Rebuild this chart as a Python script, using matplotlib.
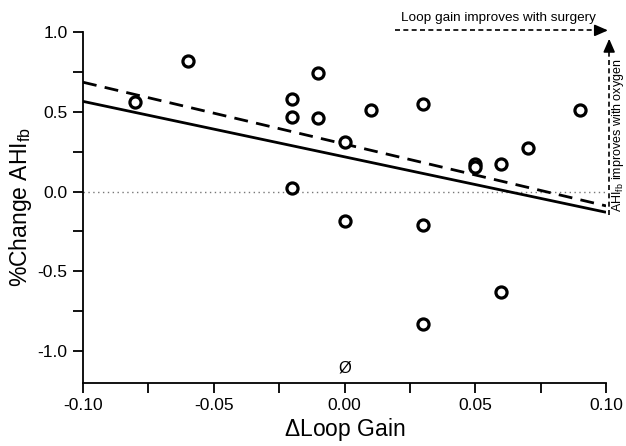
import numpy as np
import matplotlib
matplotlib.use('Agg')
import matplotlib.pyplot as plt
from matplotlib.ticker import MultipleLocator

plt.rcParams['font.family'] = ['Liberation Sans', 'DejaVu Sans']
plt.rcParams['mathtext.default'] = 'regular'

# data
loop_gain = [-0.08, -0.06, -0.02, -0.02, -0.02, -0.01, -0.01, 0.00, 0.00, 0.01,
             0.03, 0.03, 0.03, 0.05, 0.05, 0.06, 0.06, 0.07, 0.09]
pct_change = [0.56, 0.82, 0.58, 0.47, 0.02, 0.74, 0.46, 0.31, -0.185, 0.51,
              0.55, -0.21, -0.83, 0.175, 0.155, 0.175, -0.63, 0.27, 0.51]

fit_x = [-0.10, 0.10]
fit_solid = [0.565, -0.13]
fit_dashed = [0.685, -0.09]

fig = plt.figure(figsize=(6.26, 4.46), dpi=100)
ax = fig.add_axes([0.1326, 0.1413, 0.8355, 0.7870])

ax.axhline(0, color='#777777', lw=1.0, ls=(0, (1, 2.5)), zorder=1)
ax.plot(fit_x, fit_solid, color='black', lw=2.0, solid_capstyle='butt', zorder=2)
ax.plot(fit_x, fit_dashed, color='black', lw=2.0, ls=(0, (5, 3)), zorder=2)
ax.plot(loop_gain, pct_change, 'o', mfc='white', mec='black', ms=8, mew=2.3,
        zorder=3, clip_on=False)

ax.text(0.0, -1.105, 'Ø', ha='center', va='center', fontsize=12)

# annotation arrows in the top right corner
ax.plot([0.0193, 0.097], [1.01, 1.01], color='black', lw=1.2, ls=(0, (3, 2)),
        clip_on=False)
ax.annotate('', xy=(0.1018, 1.01), xytext=(0.095, 1.01), annotation_clip=False,
            arrowprops=dict(arrowstyle='-|>,head_length=0.8,head_width=0.35',
                            color='black', lw=1.2))
ax.text(0.0587, 1.085, 'Loop gain improves with surgery', ha='center', va='center',
        fontsize=9.7)
ax.plot([0.1012, 0.1012], [-0.145, 0.92], color='black', lw=1.2, ls=(0, (3, 2)),
        clip_on=False)
ax.annotate('', xy=(0.1012, 0.975), xytext=(0.1012, 0.91), annotation_clip=False,
            arrowprops=dict(arrowstyle='-|>,head_length=0.8,head_width=0.35',
                            color='black', lw=1.2))
ax.text(0.1046, -0.13, 'AHI$_{fb}$ improves with oxygen', rotation=90, ha='center',
        va='bottom', fontsize=9.0, clip_on=False)

ax.set_xlim(-0.10, 0.10)
ax.set_ylim(-1.2, 1.0)
ax.xaxis.set_major_locator(MultipleLocator(0.05))
ax.xaxis.set_minor_locator(MultipleLocator(0.025))
ax.yaxis.set_major_locator(MultipleLocator(0.5))
ax.yaxis.set_minor_locator(MultipleLocator(0.25))
ax.xaxis.set_major_formatter(plt.FuncFormatter(lambda v, p: f'{v:.2f}'))
ax.yaxis.set_major_formatter(plt.FuncFormatter(lambda v, p: f'{v:.1f}'))

for s in ['top', 'right']:
    ax.spines[s].set_visible(False)
for s in ['left', 'bottom']:
    ax.spines[s].set_linewidth(1.3)
ax.tick_params(which='both', direction='out', width=1.3, labelsize=12.5, pad=4)
ax.tick_params(which='major', length=7)
ax.tick_params(which='minor', length=7)

ax.set_xlabel(r'$\Delta$Loop Gain', fontsize=16.5, labelpad=2)
ax.set_ylabel('%Change AHI$_{fb}$', fontsize=16.5, labelpad=3)

plt.savefig('out.png', dpi=100)
